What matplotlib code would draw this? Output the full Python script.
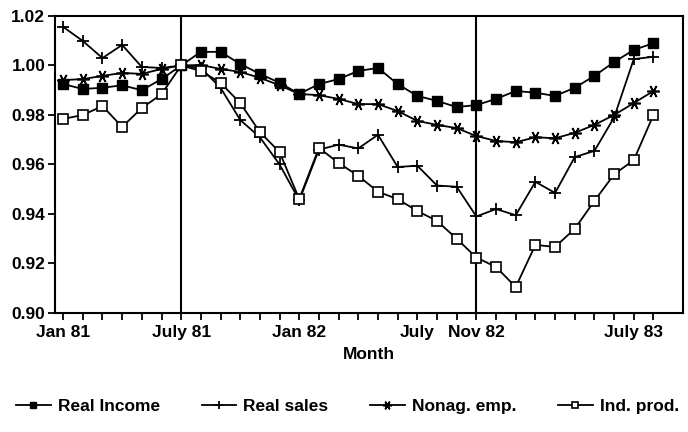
import matplotlib
matplotlib.use("Agg")
import matplotlib.pyplot as plt
import numpy as np

plt.rcParams['font.family'] = ['Liberation Sans', 'DejaVu Sans']

months = np.arange(31)  # Jan 81 ... (31 monthly points)
tick_pos = [0, 6, 12, 18, 21, 29]
tick_labels = ["Jan 81", "July 81", "Jan 82", "July", "Nov 82", "July 83"]
vlines_at = [6, 21]

real_income = [0.9925, 0.9905, 0.991, 0.992, 0.990, 0.9945, 1.000,
               1.0055, 1.0055, 1.0006, 0.9966, 0.993, 0.9885, 0.9925, 0.9945,
               0.9978, 0.999, 0.9925, 0.9877, 0.9857, 0.9832, 0.984,
               0.9865, 0.9897, 0.989, 0.9877, 0.991, 0.9958, 1.0014, 1.0063, 1.009]
real_sales = [1.0156, 1.0099, 1.003, 1.0083, 0.9994, 0.999, 1.000,
              0.999, 0.991, 0.978, 0.971, 0.960, 0.9455, 0.966, 0.968,
              0.9665, 0.972, 0.959, 0.9595, 0.9515, 0.951, 0.939,
              0.942, 0.9395, 0.953, 0.9485, 0.963, 0.9655, 0.979, 1.0026, 1.0035]
nonag_emp = [0.9941, 0.9945, 0.9958, 0.997, 0.9966, 0.9986, 1.000,
             1.0002, 0.9986, 0.9974, 0.995, 0.992, 0.9885, 0.988, 0.9865,
             0.9844, 0.9844, 0.9816, 0.9776, 0.976, 0.9747, 0.9715,
             0.9695, 0.969, 0.971, 0.9706, 0.9728, 0.976, 0.980, 0.9848, 0.9897]
ind_prod = [0.9784, 0.980, 0.9836, 0.9752, 0.9828, 0.9884, 1.000,
            0.9978, 0.993, 0.9848, 0.9731, 0.965, 0.946, 0.9667, 0.9606,
            0.9554, 0.949, 0.946, 0.9412, 0.9372, 0.930, 0.9224,
            0.9186, 0.9105, 0.9275, 0.9267, 0.934, 0.9453, 0.956, 0.9618, 0.980]

fig = plt.figure(figsize=(6.88, 4.32), dpi=100)
ax = fig.add_axes([0.080, 0.2755, 0.913, 0.6875])

lw = 1.3
ax.plot(months, real_income, color='black', lw=lw, marker='s', ms=6.5,
        mfc='black', mec='black', label='Real Income')
ax.plot(months, real_sales, color='black', lw=lw, marker='+', ms=9, mew=1.3,
        label='Real sales')
ax.plot(months, nonag_emp, color='black', lw=lw, marker=(6, 2, 90), ms=9, mew=1.2,
        label='Nonag. emp.')
ax.plot(months, ind_prod, color='black', lw=lw, marker='s', ms=6.5,
        mfc='white', mec='black', mew=1.2, label='Ind. prod.')

for v in vlines_at:
    ax.axvline(v, color='black', lw=1.5, zorder=0)

yt = np.arange(0.90, 1.0201, 0.02)
ax.set_xlim(-0.41, 31.51)
ax.set_ylim(0.90, 1.02)
ax.set_yticks(yt)
ax.set_yticklabels([f"{v:.2f}" for v in yt], fontweight='bold')
labels = [""] * 31
for p, t in zip(tick_pos, tick_labels):
    labels[p] = t
ax.set_xticks(months)
ax.set_xticklabels(labels, fontweight='bold')
ax.tick_params(axis='x', length=5, width=1.3, direction='out', labelsize=12.5, pad=4)
ax.tick_params(axis='y', length=5, width=1.3, direction='out', labelsize=12.5, pad=2)
for s in ax.spines.values():
    s.set_linewidth(1.5)
ax.set_xlabel("Month", fontsize=12.5, fontweight='bold', labelpad=5)

leg = fig.legend(loc='center', bbox_to_anchor=(0.505, 0.06), ncol=4, frameon=False,
                 prop={'size': 12.5, 'weight': 'bold'}, handlelength=2.0,
                 columnspacing=2.4, handletextpad=0.4, markerscale=0.7)

fig.savefig("out.png", dpi=100)
